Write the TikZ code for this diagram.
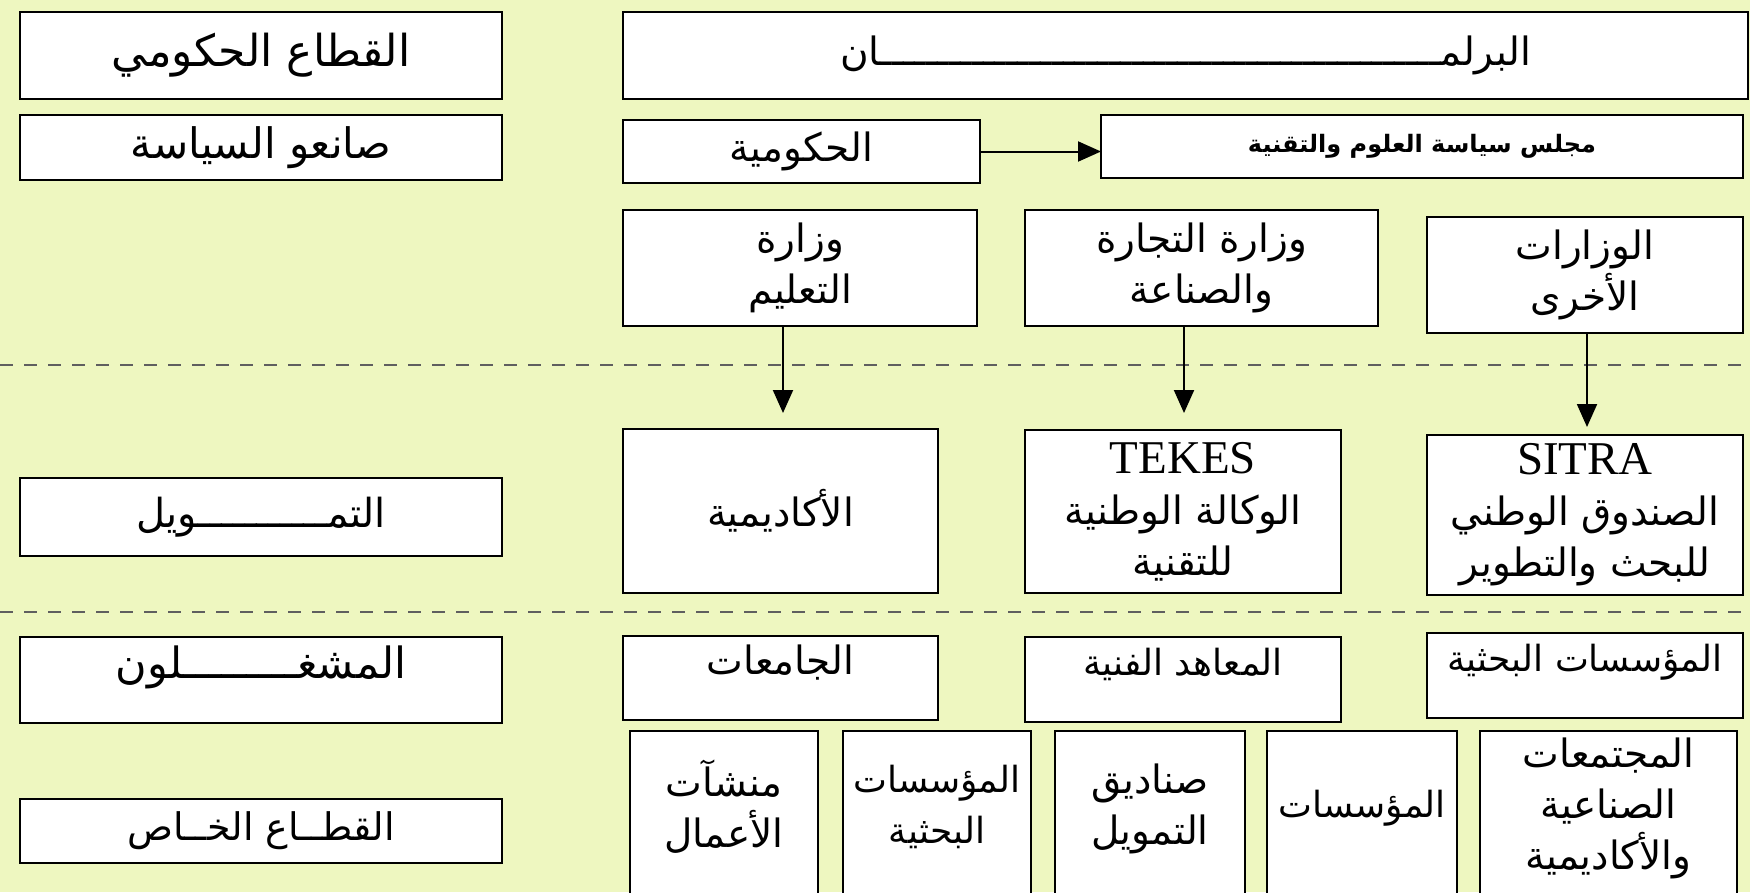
\documentclass[tikz,border=0pt]{standalone}
\usepackage{fontspec}
\usepackage{xcolor}
\usepackage{tikz}
\usetikzlibrary{
	arrows.meta,
}
\TeXXeTstate=1
\newfontfamily\arabicfont[Script=Arabic]{DejaVu Sans}
\newfontfamily\latinfont{Liberation Serif}
\definecolor{background}{RGB}{238,247,192}
\definecolor{dashline}{RGB}{95,95,95}
\newcommand{\ar}[1]{\beginR #1\endR}

\begin{document}
\begin{tikzpicture}[x=1pt, y=-1pt,
	box/.style={draw=black, line width=2.6pt, fill=white, inner sep=0pt, outer sep=0pt, align=center, font=\arabicfont\fontsize{39}{51}\selectfont},
	sidebox/.style={box, minimum width=482pt},
	toptext/.style={text depth=36pt},
	lowtext/.style={text depth=28pt},
	arr/.style={line width=2pt, -{Triangle[length=23pt,width=20pt]}},
	seprule/.style={dashline, line width=2pt, dash pattern=on 13pt off 11pt}]
\useasboundingbox (0,0) rectangle (1750,892);
\clip (0,0) rectangle (1750,892);
\fill[background] (0,0) rectangle (1750,892);

% separators
\draw[seprule] (0,365) -- (1750,365);
\draw[seprule] (0,612) -- (1750,612);

% left column
\node[sidebox, font=\arabicfont\fontsize{44}{50}\selectfont, minimum height=87pt] (gov) at (261,55.5) {\ar{القطاع الحكومي}};
\node[sidebox, font=\arabicfont\fontsize{42}{50}\selectfont, minimum height=65pt] (policy) at (261,147.5) {\ar{صانعو السياسة}};
\node[sidebox, font=\arabicfont\fontsize{40}{50}\selectfont, minimum height=78pt] (finance) at (261,517) {\ar{التمـــــــــــويل}};
\node[sidebox, toptext, font=\arabicfont\fontsize{43}{50}\selectfont, minimum height=86pt] (operators) at (261,680) {\ar{المشغـــــــــلون}};
\node[sidebox, font=\arabicfont\fontsize{38}{50}\selectfont, minimum height=64pt] (private) at (261,831) {\ar{القطــاع الخــاص}};

% policy makers
\node[box, minimum width=1125pt, minimum height=87pt] (parl) at (1185.5,55.5) {\ar{البرلمـــــــــــــــــــــــــــــــــــــــــــــــــان}};
\node[box, minimum width=357pt, minimum height=63pt] (govt) at (801.5,151.5) {\ar{الحكومية}};
\node[box, font=\arabicfont\bfseries\fontsize{24}{30}\selectfont, minimum width=642pt, minimum height=63pt] (council) at (1422,146.5) {\ar{مجلس سياسة العلوم والتقنية}};
\node[box, minimum width=354pt, minimum height=116pt] (edu) at (800,268) {\ar{وزارة}\\\ar{التعليم}};
\node[box, minimum width=353pt, minimum height=116pt] (trade) at (1201.5,268) {\ar{وزارة التجارة}\\\ar{والصناعة}};
\node[box, minimum width=316pt, minimum height=116pt] (other) at (1585,275) {\ar{الوزارات}\\\ar{الأخرى}};

% funding
\node[box, minimum width=315pt, minimum height=164pt] (acad) at (780.5,511) {\ar{الأكاديمية}};
\node[box, minimum width=316pt, minimum height=163pt] (tekes) at (1183,511.5) {{\latinfont\fontsize{47}{51}\selectfont TEKES}\\\ar{الوكالة الوطنية}\\\ar{للتقنية}};
\node[box, minimum width=316pt, minimum height=160pt] (sitra) at (1585,515) {{\latinfont\fontsize{47}{51}\selectfont SITRA}\\\ar{الصندوق الوطني}\\\ar{للبحث والتطوير}};

% operators
\node[box, toptext, minimum width=315pt, minimum height=84pt] (univ) at (780.5,678) {\ar{الجامعات}};
\node[box, toptext, font=\arabicfont\fontsize{36}{51}\selectfont, minimum width=316pt, minimum height=85pt] (tech) at (1183,679.5) {\ar{المعاهد الفنية}};
\node[box, toptext, font=\arabicfont\fontsize{36}{51}\selectfont, minimum width=316pt, minimum height=85pt] (resinst) at (1585,675.5) {\ar{المؤسسات البحثية}};

% private sector
\node[box, lowtext, minimum width=188pt, minimum height=174pt] (biz) at (724,818) {\ar{منشآت}\\\ar{الأعمال}};
\node[box, lowtext, font=\arabicfont\fontsize{36}{51}\selectfont, minimum width=188pt, minimum height=174pt] (research) at (937,818) {\ar{المؤسسات}\\\ar{البحثية}};
\node[box, lowtext, minimum width=190pt, minimum height=174pt] (funds) at (1150,818) {\ar{صناديق}\\\ar{التمويل}};
\node[box, lowtext, font=\arabicfont\fontsize{36}{51}\selectfont, minimum width=190pt, minimum height=174pt] (corps) at (1362,818) {\ar{المؤسسات}};
\node[box, lowtext, minimum width=257pt, minimum height=174pt] (comm) at (1608.5,818) {\ar{المجتمعات}\\\ar{الصناعية}\\\ar{والأكاديمية}};

% arrows
\coordinate (tip1) at (783,413);
\coordinate (tip2) at (1184,413);
\coordinate (tip3) at (1587,427);
\draw[arr] (govt.east) -- (govt.east -| council.west);
\draw[arr] (tip1 |- edu.south) -- (tip1);
\draw[arr] (tip2 |- trade.south) -- (tip2);
\draw[arr] (tip3 |- other.south) -- (tip3);
\end{tikzpicture}
\end{document}
